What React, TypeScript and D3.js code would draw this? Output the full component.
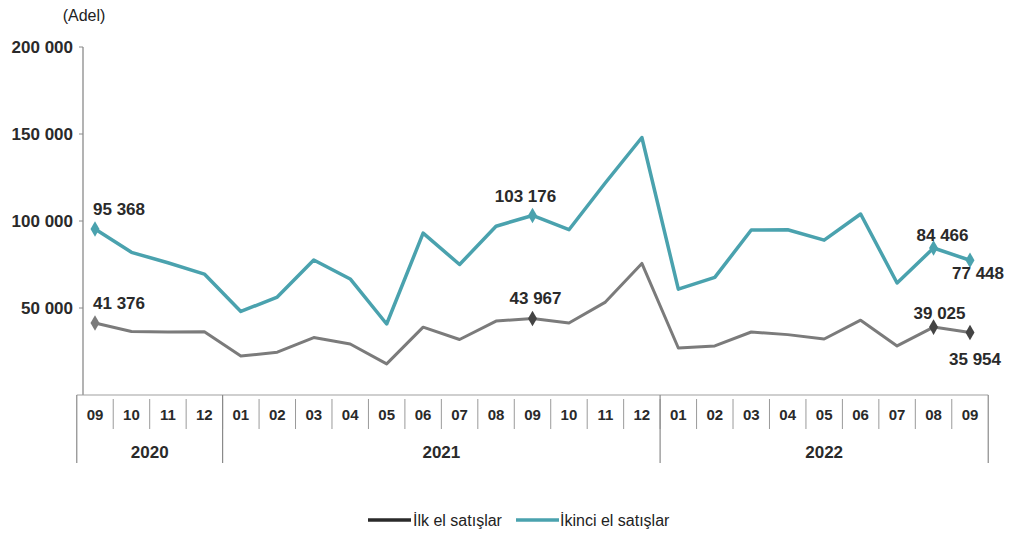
import React from "react";
import * as d3 from "d3";

const months = ["09","10","11","12","01","02","03","04","05","06","07","08","09","10","11","12","01","02","03","04","05","06","07","08","09"];
const years = [
  { label: "2020", from: 0, to: 3 },
  { label: "2021", from: 4, to: 15 },
  { label: "2022", from: 16, to: 24 },
];
const ilkEl = [41376, 36500, 36200, 36400, 22400, 24600, 33000, 29300, 17900, 39000, 31900, 42500, 43967, 41400, 53400, 75600, 27000, 28200, 36200, 34700, 32200, 43000, 28200, 39025, 35954];
const ikinciEl = [95368, 82000, 76000, 69500, 48000, 56300, 77600, 66700, 40800, 93000, 75000, 97000, 103176, 95000, 122000, 148000, 60800, 67600, 94800, 95000, 89000, 104000, 64400, 84466, 77448];
const yTicks = [50000, 100000, 150000, 200000];
const markedIdx = [0, 12, 23, 24];
// label placement: [series, index, dx, dy, anchor]
const labelPlacement: [string, number, number, number, string][] = [
  ["ikinci", 0, -2, -14, "start"],
  ["ilk", 0, -2, -14, "start"],
  ["ikinci", 12, -7, -13, "middle"],
  ["ilk", 12, 3, -14, "middle"],
  ["ikinci", 23, 9, -7, "middle"],
  ["ikinci", 24, 8, 19, "middle"],
  ["ilk", 23, 6, -8, "middle"],
  ["ilk", 24, 5, 33, "middle"],
];

const fmt = (v: number) => d3.format(",")(v).replace(/,/g, " ");

const TEAL = "#4aa2ae";
const GRAY = "#7b7b7b";
const FONT = "'Liberation Sans', Arial, sans-serif";

export default function App() {
  const idx = months.map((_, i) => i);
  const x = d3.scalePoint<number>().domain(idx).range([95, 970]);
  const y = d3.scaleLinear().domain([0, 200000]).range([395, 47]);
  const step = x.step();
  const line = d3.line<number>().x((_, i) => x(i)!).y((d) => y(d));
  const left = x(0)! - step / 2;
  const right = x(months.length - 1)! + step / 2;
  const diamond = d3.symbol().type(d3.symbolDiamond).size(70)()!;
  const seriesMap: Record<string, number[]> = { ilk: ilkEl, ikinci: ikinciEl };

  return (
    <svg width={1010} height={538} style={{ position: "absolute", left: 0, top: 0, background: "#fff" }} fontFamily={FONT}>
      <text x={84} y={21} textAnchor="middle" fontSize={16} fill="#222">(Adel)</text>
      {/* y axis */}
      <line x1={83} x2={83} y1={y(200000)} y2={y(0)} stroke="#8a8a8a" strokeWidth={1.3} />
      {yTicks.map((t) => (
        <g key={t}>
          <line x1={79} x2={83} y1={y(t)} y2={y(t)} stroke="#8a8a8a" />
          <text x={73} y={y(t)} dy="0.35em" textAnchor="end" fontSize={17} fontWeight="bold" fill="#2a2a2a">{fmt(t)}</text>
        </g>
      ))}
      {/* x axis */}
      <line x1={left} x2={right} y1={y(0)} y2={y(0)} stroke="#a0a0a0" strokeWidth={1.2} />
      {idx.slice(1).map((i) => (
        <line key={"s" + i} x1={x(i)! - step / 2} x2={x(i)! - step / 2} y1={y(0) + 4} y2={y(0) + 34} stroke="#9a9a9a" strokeWidth={1} />
      ))}
      {months.map((m, i) => (
        <text key={"m" + i} x={x(i)!} y={y(0) + 20} dy="0.35em" textAnchor="middle" fontSize={15} fontWeight="bold" fill="#2a2a2a">{m}</text>
      ))}
      {years.map((yr) => {
        const x0 = x(yr.from)! - step / 2;
        const x1 = x(yr.to)! + step / 2;
        return (
          <g key={yr.label}>
            <text x={(x0 + x1) / 2} y={y(0) + 57} dy="0.35em" textAnchor="middle" fontSize={17} fontWeight="bold" fill="#2a2a2a">{yr.label}</text>
          </g>
        );
      })}
      {[left, ...years.map((yr) => x(yr.to)! + step / 2)].map((xx, i) => (
        <line key={"yb" + i} x1={xx} x2={xx} y1={y(0)} y2={y(0) + 68} stroke="#8a8a8a" strokeWidth={1.2} />
      ))}
      {/* lines */}
      <path d={line(ikinciEl)!} fill="none" stroke={TEAL} strokeWidth={3.5} strokeLinejoin="round" />
      <path d={line(ilkEl)!} fill="none" stroke={GRAY} strokeWidth={3} strokeLinejoin="round" />
      {markedIdx.map((i) => (
        <g key={"mk" + i}>
          <path d={diamond} transform={`translate(${x(i)},${y(ikinciEl[i])})`} fill={TEAL} />
          <path d={diamond} transform={`translate(${x(i)},${y(ilkEl[i])})`} fill={i === 0 ? GRAY : "#444"} />
        </g>
      ))}
      {labelPlacement.map(([s, i, dx, dy, anchor], k) => (
        <text key={"l" + k} x={x(i)! + dx} y={y(seriesMap[s][i]) + dy} textAnchor={anchor as any} fontSize={17} fontWeight="bold" fill="#2a2a2a">{fmt(seriesMap[s][i])}</text>
      ))}
      {/* legend */}
      <line x1={368} x2={411} y1={520} y2={520} stroke="#2a2a2a" strokeWidth={3.5} />
      <text x={413} y={520} dy="0.35em" fontSize={16} fill="#222">İlk el satışlar</text>
      <line x1={516} x2={559} y1={520} y2={520} stroke={TEAL} strokeWidth={3.5} />
      <text x={560} y={520} dy="0.35em" fontSize={16} fill="#222">İkinci el satışlar</text>
    </svg>
  );
}
